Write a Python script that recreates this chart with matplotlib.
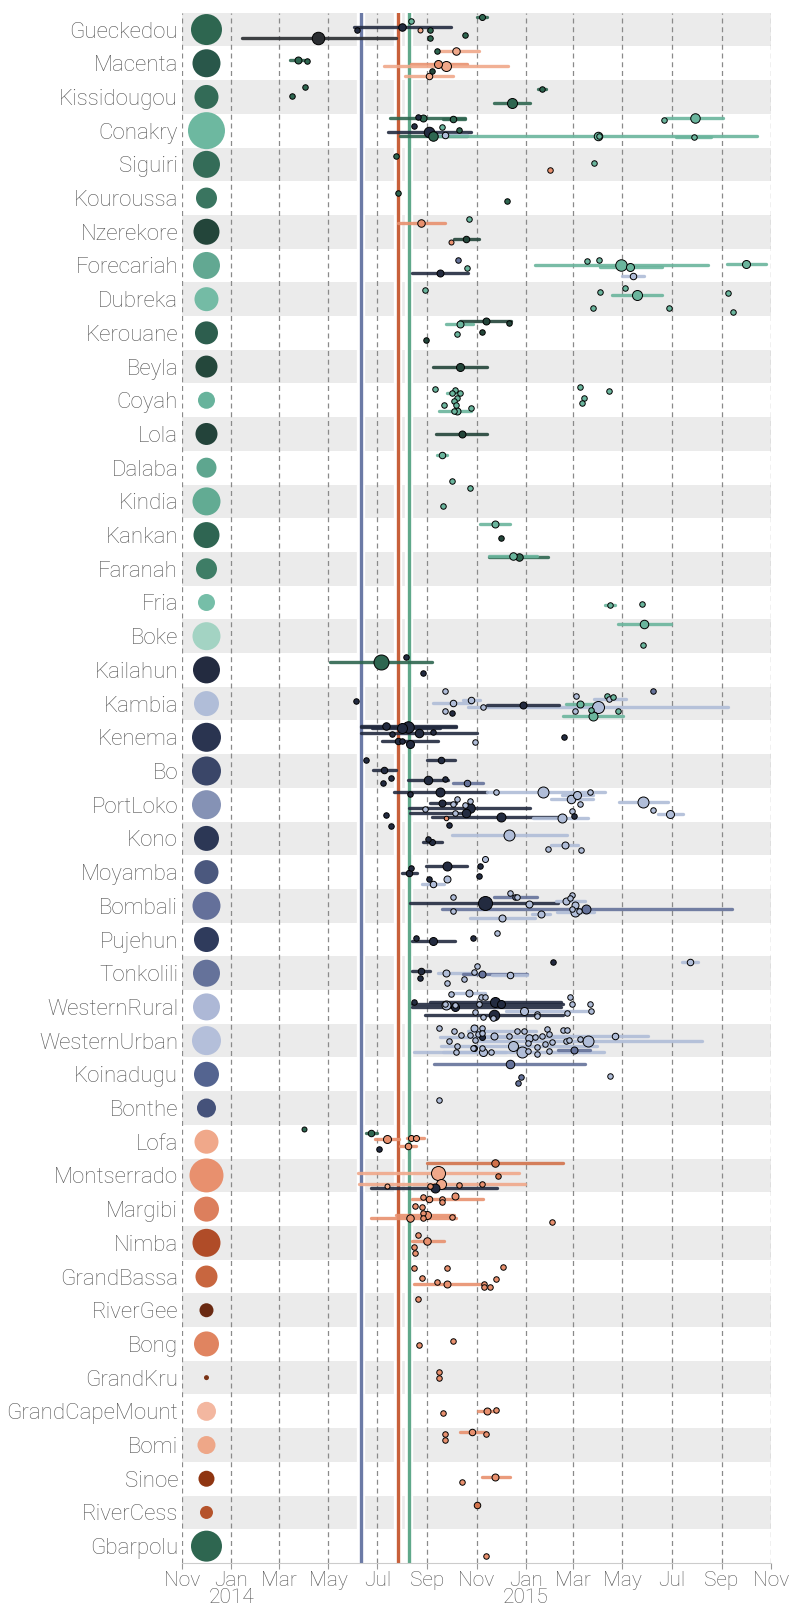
import matplotlib
matplotlib.use("Agg")
import matplotlib.pyplot as plt
import matplotlib.patheffects as pe
from datetime import date

# districts, top to bottom
locations = ['Gueckedou', 'Macenta', 'Kissidougou', 'Conakry', 'Siguiri', 'Kouroussa',
             'Nzerekore', 'Forecariah', 'Dubreka', 'Kerouane', 'Beyla', 'Coyah', 'Lola',
             'Dalaba', 'Kindia', 'Kankan', 'Faranah', 'Fria', 'Boke',
             'Kailahun', 'Kambia', 'Kenema', 'Bo', 'PortLoko', 'Kono', 'Moyamba',
             'Bombali', 'Pujehun', 'Tonkolili', 'WesternRural', 'WesternUrban',
             'Koinadugu', 'Bonthe',
             'Lofa', 'Montserrado', 'Margibi', 'Nimba', 'GrandBassa', 'RiverGee', 'Bong',
             'GrandKru', 'GrandCapeMount', 'Bomi', 'Sinoe', 'RiverCess', 'Gbarpolu']

loc_size = [31, 28, 24, 37, 27, 21, 26, 27, 24, 23, 22, 17, 22, 20, 28, 26, 21, 17, 28,
            27, 25, 29, 29, 29, 25, 24, 28, 25, 27, 27, 29, 25, 19,
            24, 34, 25, 28, 22, 14, 25, 5, 19, 18, 16, 13, 31]

loc_color = ['#2e6650', '#29574a', '#336b57', '#6db8a0', '#346c58', '#3a7560', '#23453a',
             '#62a892', '#74bba5', '#2d5e4e', '#24473b', '#68b39c', '#23433a', '#5ea68f',
             '#62ab93', '#2f6552', '#3e7d66', '#76bea8', '#a3d3c3',
             '#232b40', '#b0bdd8', '#2a3450', '#3a4668', '#8592b5', '#2c3755', '#4b587e',
             '#64709a', '#2f3b5c', '#65729a', '#adb8d6', '#b4bfda', '#546490', '#45527a',
             '#f0a88a', '#e8906e', '#dc7f5d', '#b04c28', '#c8663f', '#6a2a12', '#e08460',
             '#7a3316', '#f3b7a0', '#eea788', '#8f3511', '#b5532b', '#2e6650']

palette = {'gd': '#23453a', 'gm': '#2e6650', 'gl': '#6ab59d',
           'sk': '#232b40', 'sm': '#65729a', 'sl': '#b0bdd8',
           'lp': '#f0a88a', 'lm': '#e8906e', 'ld': '#d2724b', 'ch': '#2a2d31'}

# (location, date, low, high, jitter, n, source)
guinea_intros = [
    ('Gueckedou', 2014.850, 2014.833, 2014.868, -0.38, 6, 'gm'),
    ('Gueckedou', 2014.610, None, None, -0.25, 5.5, 'gl'),
    ('Gueckedou', 2014.581, 2014.417, 2014.747, -0.07, 7.5, 'sk'),
    ('Gueckedou', 2014.425, None, None, 0.02, 5.5, 'sk'),
    ('Gueckedou', 2014.641, None, None, 0.0, 5, 'lp'),
    ('Gueckedou', 2014.675, None, None, 0.0, 5.5, 'gm'),
    ('Gueckedou', 2014.675, None, None, 0.24, 5.5, 'gm'),
    ('Gueckedou', 2014.793, None, None, 0.15, 5.5, 'gm'),
    ('Gueckedou', 2014.295, 2014.036, 2014.558, 0.25, 12.5, 'ch'),
    ('Macenta', 2014.698, None, None, -0.35, 5.5, 'gm'),
    ('Macenta', 2014.764, 2014.698, 2014.841, -0.35, 7.5, 'lp'),
    ('Macenta', 2014.225, 2014.198, 2014.247, -0.11, 7, 'gm'),
    ('Macenta', 2014.255, None, None, -0.07, 5.5, 'gm'),
    ('Macenta', 2014.703, 2014.610, 2014.799, 0.01, 8, 'lm'),
    ('Macenta', 2014.729, 2014.517, 2014.939, 0.09, 10, 'lp'),
    ('Macenta', 2014.683, None, None, 0.22, 5.5, 'gd'),
    ('Macenta', 2014.670, 2014.589, 2014.752, 0.38, 6.5, 'lp'),
    ('Kissidougou', 2014.249, None, None, -0.29, 5.5, 'gm'),
    ('Kissidougou', 2014.205, None, None, -0.04, 5.5, 'gm'),
    ('Kissidougou', 2015.055, 2015.041, 2015.069, -0.23, 5.5, 'gm'),
    ('Kissidougou', 2014.952, 2014.891, 2015.013, 0.19, 10, 'gm'),
    ('Conakry', 2014.634, None, None, -0.41, 5.5, 'sk'),
    ('Conakry', 2014.652, 2014.540, 2014.792, -0.38, 7, 'gm'),
    ('Conakry', 2014.754, 2014.718, 2014.792, -0.35, 6.5, 'gm'),
    ('Conakry', 2015.470, None, None, -0.33, 5.5, 'gl'),
    ('Conakry', 2015.574, 2015.476, 2015.670, -0.38, 9.5, 'gl'),
    ('Conakry', 2014.620, None, None, -0.14, 5.5, 'sk'),
    ('Conakry', 2014.716, None, None, -0.10, 5.5, 'gl'),
    ('Conakry', 2014.773, None, None, -0.01, 5.5, 'gm'),
    ('Conakry', 2014.672, 2014.533, 2014.815, 0.05, 10.5, 'sk'),
    ('Conakry', 2014.686, 2014.574, 2014.799, 0.17, 9.5, 'gm'),
    ('Conakry', 2014.724, 2014.698, 2014.799, 0.12, 6.5, 'sl'),
    ('Conakry', 2015.244, 2014.698, 2015.785, 0.16, 8.5, 'gl'),
    ('Conakry', 2015.249, None, None, 0.15, 5.5, 'gl'),
    ('Conakry', 2015.571, 2015.512, 2015.629, 0.20, 5.5, 'gl'),
    ('Siguiri', 2014.559, None, None, -0.25, 5.5, 'gm'),
    ('Siguiri', 2015.231, None, None, -0.05, 5.5, 'gl'),
    ('Siguiri', 2015.083, None, None, 0.17, 5.5, 'lm'),
    ('Kouroussa', 2014.567, None, None, -0.14, 5.5, 'gm'),
    ('Kouroussa', 2014.938, None, None, 0.09, 5.5, 'gm'),
    ('Nzerekore', 2014.806, None, None, -0.39, 5.5, 'gl'),
    ('Nzerekore', 2014.644, 2014.566, 2014.724, -0.25, 7.5, 'lm'),
    ('Nzerekore', 2014.798, 2014.757, 2014.841, 0.22, 6.5, 'gd'),
    ('Nzerekore', 2014.746, None, None, 0.31, 5, 'lm'),
    ('Forecariah', 2014.770, None, None, -0.17, 5.5, 'sm'),
    ('Forecariah', 2014.802, None, None, 0.07, 5.5, 'gl'),
    ('Forecariah', 2014.707, 2014.614, 2014.803, 0.22, 7, 'sk'),
    ('Forecariah', 2015.209, None, None, -0.12, 5.5, 'gl'),
    ('Forecariah', 2015.250, None, None, -0.15, 5.5, 'gl'),
    ('Forecariah', 2015.324, 2015.030, 2015.621, -0.01, 11.5, 'gl'),
    ('Forecariah', 2015.356, 2015.251, 2015.462, 0.06, 8, 'gl'),
    ('Forecariah', 2015.363, 2015.326, 2015.401, 0.32, 6.5, 'sl'),
    ('Forecariah', 2015.749, 2015.684, 2015.817, -0.05, 8, 'gl'),
    ('Dubreka', 2014.658, None, None, -0.27, 5.5, 'gl'),
    ('Dubreka', 2015.253, None, None, -0.20, 5.5, 'gl'),
    ('Dubreka', 2015.339, None, None, -0.33, 5.5, 'gl'),
    ('Dubreka', 2015.379, 2015.293, 2015.464, -0.12, 10, 'gl'),
    ('Dubreka', 2015.229, None, None, 0.26, 5.5, 'gl'),
    ('Dubreka', 2015.486, None, None, 0.25, 5.5, 'gl'),
    ('Dubreka', 2015.689, None, None, -0.17, 5.5, 'gl'),
    ('Dubreka', 2015.705, None, None, 0.38, 5.5, 'gl'),
    ('Kerouane', 2014.866, 2014.775, 2014.950, -0.34, 7, 'gd'),
    ('Kerouane', 2014.944, None, None, -0.30, 5.5, 'gd'),
    ('Kerouane', 2014.775, 2014.730, 2014.821, -0.26, 7, 'gl'),
    ('Kerouane', 2014.765, None, None, 0.04, 5.5, 'gl'),
    ('Kerouane', 2014.853, None, None, -0.04, 5.5, 'gd'),
    ('Kerouane', 2014.661, None, None, 0.21, 5.5, 'gd'),
    ('Beyla', 2014.777, 2014.686, 2014.868, 0.0, 8, 'gd'),
    ('Coyah', 2014.693, None, None, -0.33, 5.5, 'gl'),
    ('Coyah', 2014.758, None, None, -0.31, 5.5, 'gl'),
    ('Coyah', 2014.751, 2014.732, 2014.768, -0.22, 5.5, 'gl'),
    ('Coyah', 2014.777, None, None, -0.22, 5.5, 'gl'),
    ('Coyah', 2014.765, None, None, -0.08, 5.5, 'gl'),
    ('Coyah', 2014.755, None, None, 0.03, 5.5, 'gl'),
    ('Coyah', 2014.722, None, None, 0.14, 5.5, 'gl'),
    ('Coyah', 2014.762, None, None, 0.14, 5.5, 'gl'),
    ('Coyah', 2014.757, None, None, 0.31, 5.5, 'gl'),
    ('Coyah', 2014.768, 2014.704, 2014.815, 0.33, 7, 'gl'),
    ('Coyah', 2014.814, None, None, 0.24, 5.5, 'gl'),
    ('Coyah', 2015.185, None, None, -0.38, 5.5, 'gl'),
    ('Coyah', 2015.284, None, None, -0.27, 5.5, 'gl'),
    ('Coyah', 2015.199, None, None, -0.06, 5.5, 'gl'),
    ('Coyah', 2015.192, None, None, 0.07, 5.5, 'gl'),
    ('Lola', 2014.784, 2014.696, 2014.870, 0.0, 7, 'gd'),
    ('Dalaba', 2014.714, 2014.698, 2014.733, -0.39, 6.5, 'gl'),
    ('Dalaba', 2014.751, None, None, 0.39, 5.5, 'gl'),
    ('Kindia', 2014.809, None, None, -0.40, 5.5, 'gl'),
    ('Kindia', 2014.719, None, None, 0.15, 5.5, 'gl'),
    ('Kankan', 2014.896, 2014.846, 2014.946, -0.34, 7, 'gl'),
    ('Kankan', 2014.917, None, None, 0.10, 5.5, 'gd'),
    ('Faranah', 2014.976, 2014.874, 2015.075, -0.34, 7.5, 'gm'),
    ('Faranah', 2014.958, 2014.874, 2015.038, -0.37, 7.5, 'gl'),
    ('Fria', 2015.286, 2015.270, 2015.302, 0.08, 5.5, 'gl'),
    ('Fria', 2015.396, None, None, 0.04, 5.5, 'gl'),
    ('Boke', 2015.403, 2015.313, 2015.495, -0.37, 8.5, 'gl'),
    ('Boke', 2015.397, None, None, 0.26, 5.5, 'gl'),
]

sierra_intros = [
    ('Kailahun', 2014.507, 2014.335, 2014.681, -0.23, 15, 'gm'),
    ('Kailahun', 2014.593, None, None, -0.38, 5.5, 'sk'),
    ('Kailahun', 2014.652, None, None, 0.09, 5.5, 'sk'),
    ('Kambia', 2014.724, None, None, -0.36, 5.5, 'sl'),
    ('Kambia', 2015.431, None, None, -0.38, 5.5, 'sm'),
    ('Kambia', 2014.423, None, None, -0.07, 5.5, 'sk'),
    ('Kambia', 2014.754, 2014.686, 2014.815, -0.03, 6.5, 'sl'),
    ('Kambia', 2014.815, 2014.787, 2014.846, -0.12, 6.5, 'sl'),
    ('Kambia', 2014.727, None, None, 0.22, 5.5, 'sl'),
    ('Kambia', 2014.748, None, None, 0.29, 5.5, 'sk'),
    ('Kambia', 2014.856, None, None, 0.11, 5.5, 'sl'),
    ('Kambia', 2015.246, 2014.803, 2015.688, 0.11, 12, 'sl'),
    ('Kambia', 2014.990, 2014.868, 2015.114, 0.05, 7, 'sk'),
    ('Kambia', 2015.170, None, None, -0.22, 5.5, 'sl'),
    ('Kambia', 2015.183, 2015.138, 2015.237, 0.02, 7, 'gl'),
    ('Kambia', 2015.168, None, None, 0.22, 5.5, 'sl'),
    ('Kambia', 2015.222, None, None, 0.20, 5.5, 'gl'),
    ('Kambia', 2015.227, 2015.126, 2015.331, 0.38, 9, 'gl'),
    ('Kambia', 2015.275, None, None, -0.24, 5.5, 'gl'),
    ('Kambia', 2015.284, 2015.231, 2015.340, -0.15, 5.5, 'sl'),
    ('Kambia', 2015.297, None, None, -0.21, 5.5, 'gl'),
    ('Kambia', 2015.314, None, None, 0.22, 5.5, 'gl'),
    ('Kenema', 2014.525, 2014.440, 2014.763, -0.35, 7.5, 'sk'),
    ('Kenema', 2014.579, 2014.479, 2014.710, -0.27, 10, 'sk'),
    ('Kenema', 2014.601, 2014.440, 2014.764, -0.30, 11.5, 'sk'),
    ('Kenema', 2014.546, None, None, -0.11, 5.5, 'sk'),
    ('Kenema', 2014.638, 2014.440, 2014.836, -0.12, 8.5, 'sk'),
    ('Kenema', 2014.685, None, None, -0.15, 5.5, 'sk'),
    ('Kenema', 2014.565, 2014.512, 2014.703, 0.12, 6.5, 'sk'),
    ('Kenema', 2014.581, None, None, 0.11, 5.5, 'sk'),
    ('Kenema', 2014.606, None, None, 0.21, 8, 'sk'),
    ('Kenema', 2014.828, None, None, 0.13, 5.5, 'sl'),
    ('Kenema', 2015.131, None, None, -0.01, 5.5, 'sk'),
    ('Bo', 2014.458, None, None, -0.34, 5.5, 'sk'),
    ('Bo', 2014.712, 2014.665, 2014.759, -0.32, 6.5, 'sk'),
    ('Bo', 2014.519, 2014.481, 2014.558, -0.03, 6.5, 'sk'),
    ('Bo', 2014.542, None, None, 0.22, 5.5, 'sk'),
    ('Bo', 2014.515, None, None, 0.37, 5.5, 'sk'),
    ('Bo', 2014.669, 2014.601, 2014.737, 0.28, 8.5, 'sk'),
    ('Bo', 2014.724, None, None, 0.24, 5.5, 'sk'),
    ('Bo', 2014.802, 2014.754, 2014.854, 0.37, 6.5, 'sm'),
    ('PortLoko', 2014.606, None, None, -0.33, 5.5, 'sk'),
    ('PortLoko', 2014.710, 2014.552, 2014.868, -0.38, 9, 'sk'),
    ('PortLoko', 2014.900, None, None, -0.38, 5.5, 'sl'),
    ('PortLoko', 2015.058, 2014.868, 2015.270, -0.38, 11, 'sl'),
    ('PortLoko', 2015.219, None, None, -0.39, 5.5, 'sl'),
    ('PortLoko', 2015.175, 2015.122, 2015.227, -0.28, 8, 'sl'),
    ('PortLoko', 2015.155, 2015.085, 2015.227, -0.17, 8.5, 'sl'),
    ('PortLoko', 2015.184, None, None, -0.01, 5.5, 'sl'),
    ('PortLoko', 2015.398, 2015.316, 2015.483, -0.08, 11, 'sl'),
    ('PortLoko', 2014.717, 2014.675, 2014.763, -0.04, 7, 'sk'),
    ('PortLoko', 2014.767, None, None, -0.16, 5.5, 'sl'),
    ('PortLoko', 2014.753, None, None, -0.03, 5.5, 'sl'),
    ('PortLoko', 2014.809, None, None, -0.11, 5.5, 'sl'),
    ('PortLoko', 2014.795, None, None, 0.0, 5.5, 'sl'),
    ('PortLoko', 2014.812, 2014.602, 2015.014, 0.11, 9.5, 'sk'),
    ('PortLoko', 2014.656, None, None, 0.14, 5.5, 'sl'),
    ('PortLoko', 2014.796, 2014.606, 2014.803, 0.25, 8.5, 'sk'),
    ('PortLoko', 2014.759, None, None, 0.25, 5.5, 'sl'),
    ('PortLoko', 2014.729, None, None, 0.39, 4.5, 'lm'),
    ('PortLoko', 2014.915, 2014.680, 2015.108, 0.36, 9, 'sk'),
    ('PortLoko', 2015.122, 2015.026, 2015.213, 0.39, 9, 'sl'),
    ('PortLoko', 2015.157, None, None, 0.20, 5.5, 'sl'),
    ('PortLoko', 2015.165, None, None, 0.33, 5.5, 'sk'),
    ('PortLoko', 2015.434, None, None, 0.16, 5.5, 'sl'),
    ('PortLoko', 2015.492, 2015.451, 2015.533, 0.27, 8, 'sl'),
    ('PortLoko', 2014.526, None, None, 0.31, 5.5, 'sk'),
    ('Kono', 2014.542, None, None, -0.37, 5.5, 'sk'),
    ('Kono', 2014.740, None, None, -0.39, 5.5, 'sk'),
    ('Kono', 2014.944, 2014.748, 2015.140, -0.09, 11, 'sl'),
    ('Kono', 2014.669, None, None, 0.01, 5.5, 'sk'),
    ('Kono', 2014.683, 2014.652, 2014.714, 0.11, 6, 'sk'),
    ('Kono', 2015.075, None, None, 0.30, 5.5, 'sl'),
    ('Kono', 2015.133, 2015.085, 2015.178, 0.20, 7, 'sl'),
    ('Kono', 2015.188, None, None, 0.33, 5.5, 'sl'),
    ('Moyamba', 2014.860, None, None, -0.40, 6, 'sl'),
    ('Moyamba', 2014.731, 2014.661, 2014.801, -0.17, 9, 'sk'),
    ('Moyamba', 2014.846, None, None, -0.17, 5.5, 'sk'),
    ('Moyamba', 2014.611, None, None, -0.11, 5.5, 'sk'),
    ('Moyamba', 2014.604, 2014.581, 2014.630, 0.04, 6.5, 'sk'),
    ('Moyamba', 2014.842, None, None, 0.13, 5.5, 'sk'),
    ('Moyamba', 2014.671, None, None, 0.20, 5.5, 'sk'),
    ('Moyamba', 2014.686, 2014.648, 2014.723, 0.35, 6.5, 'sl'),
    ('Moyamba', 2014.731, None, None, 0.21, 7, 'sl'),
    ('Bombali', 2014.946, None, None, -0.37, 5.5, 'sl'),
    ('Bombali', 2014.962, 2014.891, 2015.038, -0.25, 5.5, 'sm'),
    ('Bombali', 2014.972, None, None, -0.25, 5.5, 'sl'),
    ('Bombali', 2014.752, None, None, -0.25, 5.5, 'sl'),
    ('Bombali', 2014.860, 2014.608, 2015.108, -0.08, 14, 'sk'),
    ('Bombali', 2015.010, None, None, -0.04, 7, 'sl'),
    ('Bombali', 2014.752, None, None, 0.15, 5.5, 'sl'),
    ('Bombali', 2015.206, 2014.714, 2015.701, 0.10, 9, 'sm'),
    ('Bombali', 2015.051, 2015.022, 2015.081, 0.23, 7, 'sl'),
    ('Bombali', 2014.921, 2014.812, 2015.032, 0.35, 7, 'sl'),
    ('Bombali', 2015.156, None, None, -0.31, 5.5, 'sl'),
    ('Bombali', 2015.149, None, None, -0.23, 5.5, 'sl'),
    ('Bombali', 2015.137, 2015.102, 2015.202, -0.15, 7, 'sl'),
    ('Bombali', 2015.167, None, None, -0.02, 7, 'sl'),
    ('Bombali', 2015.158, None, None, 0.10, 5.5, 'sl'),
    ('Bombali', 2015.168, 2015.106, 2015.233, 0.18, 9, 'sl'),
    ('Bombali', 2015.181, None, None, 0.14, 5.5, 'sl'),
    ('Pujehun', 2014.628, None, None, -0.04, 5.5, 'sk'),
    ('Pujehun', 2014.685, 2014.613, 2014.760, 0.03, 8, 'sk'),
    ('Pujehun', 2014.822, None, None, -0.05, 5.5, 'sk'),
    ('Pujehun', 2014.902, None, None, -0.18, 5.5, 'sl'),
    ('Tonkolili', 2015.093, None, None, -0.33, 5.5, 'sk'),
    ('Tonkolili', 2015.558, 2015.530, 2015.586, -0.33, 6.5, 'sl'),
    ('Tonkolili', 2014.833, None, None, -0.22, 5.5, 'sl'),
    ('Tonkolili', 2014.643, 2014.613, 2014.676, -0.08, 6.5, 'sk'),
    ('Tonkolili', 2014.642, None, None, 0.13, 5.5, 'sk'),
    ('Tonkolili', 2014.730, 2014.703, 2014.815, -0.02, 7, 'sl'),
    ('Tonkolili', 2014.825, None, None, -0.05, 5.5, 'sl'),
    ('Tonkolili', 2014.852, 2014.787, 2015.003, 0.01, 7, 'sm'),
    ('Tonkolili', 2014.946, 2014.885, 2015.005, 0.05, 6.5, 'sl'),
    ('Tonkolili', 2014.791, None, None, 0.18, 5.5, 'sl'),
    ('Tonkolili', 2014.732, None, None, 0.28, 5.5, 'sl'),
    ('WesternRural', 2014.620, None, None, -0.14, 5.5, 'sk'),
    ('WesternRural', 2014.894, 2014.675, 2015.120, -0.15, 10, 'sk'),
    ('WesternRural', 2014.915, 2014.613, 2015.126, -0.08, 8, 'sk'),
    ('WesternRural', 2014.759, 2014.613, 2015.120, 0.0, 8, 'sk'),
    ('WesternRural', 2014.891, 2014.659, 2015.126, 0.23, 10.5, 'sk'),
    ('WesternRural', 2014.746, None, None, -0.38, 5.5, 'sl'),
    ('WesternRural', 2014.806, 2014.757, 2014.862, -0.40, 7, 'sl'),
    ('WesternRural', 2014.847, None, None, -0.29, 5.5, 'sl'),
    ('WesternRural', 2014.862, None, None, -0.29, 5.5, 'sl'),
    ('WesternRural', 2015.149, None, None, -0.30, 5.5, 'sl'),
    ('WesternRural', 2014.724, None, None, -0.10, 5.5, 'sl'),
    ('WesternRural', 2014.729, None, None, -0.07, 9, 'sl'),
    ('WesternRural', 2014.760, None, None, -0.06, 5.5, 'sl'),
    ('WesternRural', 2014.841, None, None, -0.08, 5.5, 'sl'),
    ('WesternRural', 2014.827, None, None, 0.15, 5.5, 'sl'),
    ('WesternRural', 2014.856, None, None, 0.31, 5.5, 'sl'),
    ('WesternRural', 2014.890, None, None, 0.33, 5.5, 'sl'),
    ('WesternRural', 2014.994, 2014.932, 2015.213, 0.12, 8, 'sl'),
    ('WesternRural', 2015.037, None, None, 0.20, 5.5, 'sl'),
    ('WesternRural', 2015.039, None, None, 0.28, 5.5, 'sl'),
    ('WesternRural', 2015.141, None, None, 0.17, 5.5, 'sl'),
    ('WesternRural', 2015.157, None, None, -0.10, 5.5, 'sl'),
    ('WesternRural', 2015.217, None, None, -0.10, 5.5, 'sl'),
    ('WesternRural', 2015.223, None, None, 0.12, 5.5, 'sl'),
    ('WesternUrban', 2014.704, None, None, -0.38, 5.5, 'sl'),
    ('WesternUrban', 2014.757, None, None, -0.30, 5.5, 'sl'),
    ('WesternUrban', 2014.780, None, None, -0.18, 5.5, 'sl'),
    ('WesternUrban', 2014.809, None, None, -0.16, 5.5, 'sl'),
    ('WesternUrban', 2014.825, None, None, -0.36, 7, 'sl'),
    ('WesternUrban', 2014.850, None, None, -0.36, 5.5, 'sl'),
    ('WesternUrban', 2014.839, None, None, -0.20, 5.5, 'sl'),
    ('WesternUrban', 2014.852, None, None, -0.24, 5.5, 'sl'),
    ('WesternUrban', 2014.829, None, None, -0.01, 5.5, 'sl'),
    ('WesternUrban', 2014.891, None, None, -0.14, 7, 'sl'),
    ('WesternUrban', 2014.942, None, None, -0.13, 5.5, 'sl'),
    ('WesternUrban', 2014.971, 2014.803, 2015.034, -0.29, 5.5, 'sl'),
    ('WesternUrban', 2014.994, None, None, -0.29, 5.5, 'sl'),
    ('WesternUrban', 2015.010, None, None, -0.09, 7.5, 'sl'),
    ('WesternUrban', 2015.030, 2014.707, 2015.126, -0.10, 5.5, 'sl'),
    ('WesternUrban', 2015.055, None, None, -0.14, 5.5, 'sl'),
    ('WesternUrban', 2015.073, None, None, -0.34, 5.5, 'sl'),
    ('WesternUrban', 2015.080, None, None, -0.20, 5.5, 'sl'),
    ('WesternUrban', 2015.088, None, None, 0.03, 5.5, 'sl'),
    ('WesternUrban', 2015.126, None, None, -0.32, 5.5, 'sl'),
    ('WesternUrban', 2015.141, None, None, -0.32, 5.5, 'sl'),
    ('WesternUrban', 2015.138, None, None, 0.01, 5.5, 'sl'),
    ('WesternUrban', 2015.148, None, None, -0.03, 5.5, 'sl'),
    ('WesternUrban', 2015.185, None, None, -0.06, 5.5, 'sl'),
    ('WesternUrban', 2014.738, None, None, 0.01, 5.5, 'sl'),
    ('WesternUrban', 2014.765, None, None, 0.15, 5.5, 'sl'),
    ('WesternUrban', 2014.762, None, None, 0.35, 5.5, 'sl'),
    ('WesternUrban', 2014.821, None, None, 0.23, 5.5, 'sl'),
    ('WesternUrban', 2014.853, None, None, 0.23, 5.5, 'sl'),
    ('WesternUrban', 2014.856, None, None, 0.35, 8, 'sl'),
    ('WesternUrban', 2014.881, 2014.718, 2014.932, 0.35, 5.5, 'sl'),
    ('WesternUrban', 2014.956, 2014.712, 2015.243, 0.16, 10, 'sl'),
    ('WesternUrban', 2014.986, 2014.622, 2015.266, 0.35, 11, 'sl'),
    ('WesternUrban', 2015.008, None, None, 0.08, 5.5, 'sl'),
    ('WesternUrban', 2015.040, None, None, 0.18, 5.5, 'sl'),
    ('WesternUrban', 2015.038, None, None, 0.41, 5.5, 'sl'),
    ('WesternUrban', 2015.078, None, None, 0.31, 5.5, 'sl'),
    ('WesternUrban', 2015.008, None, None, 0.30, 5.5, 'sl'),
    ('WesternUrban', 2015.064, None, None, 0.10, 5.5, 'sl'),
    ('WesternUrban', 2015.213, 2014.829, 2015.600, 0.0, 11, 'sl'),
    ('WesternUrban', 2015.304, 2014.825, 2015.416, -0.13, 6.5, 'sl'),
    ('WesternUrban', 2014.850, None, None, -0.12, 6, 'sk'),
    ('WesternUrban', 2014.825, None, None, 0.23, 6, 'sk'),
    ('WesternUrban', 2015.164, 2015.108, 2015.219, 0.28, 7, 'sm'),
    ('Koinadugu', 2014.945, 2014.689, 2015.202, -0.31, 8.5, 'sm'),
    ('Koinadugu', 2014.985, None, None, 0.07, 5.5, 'sm'),
    ('Koinadugu', 2014.973, None, None, 0.26, 5.5, 'sm'),
    ('Koinadugu', 2015.288, None, None, 0.04, 5.5, 'sl'),
    ('Bonthe', 2014.704, None, None, -0.24, 5.5, 'sl'),
]

liberia_intros = [
    ('Lofa', 2014.246, None, None, -0.37, 5, 'gm'),
    ('Lofa', 2014.474, 2014.458, 2014.493, -0.26, 6.5, 'gm'),
    ('Lofa', 2014.528, 2014.487, 2014.569, -0.09, 8, 'lm'),
    ('Lofa', 2014.610, None, None, -0.12, 6, 'lm'),
    ('Lofa', 2014.628, 2014.595, 2014.654, -0.12, 6, 'lm'),
    ('Lofa', 2014.501, None, None, 0.22, 5.5, 'sk'),
    ('Lofa', 2014.600, 2014.574, 2014.628, 0.12, 6.5, 'lm'),
    ('Montserrado', 2014.895, 2014.665, 2015.126, -0.36, 7.5, 'ld'),
    ('Montserrado', 2014.702, 2014.431, 2014.977, -0.07, 14, 'lp'),
    ('Montserrado', 2014.907, None, None, 0.02, 5.5, 'ld'),
    ('Montserrado', 2014.713, 2014.433, 2014.999, 0.24, 10, 'lp'),
    ('Montserrado', 2014.527, None, None, 0.32, 5, 'lp'),
    ('Montserrado', 2014.690, 2014.474, 2014.903, 0.37, 9, 'sk'),
    ('Montserrado', 2014.676, None, None, 0.30, 5.5, 'lm'),
    ('Montserrado', 2014.773, None, None, 0.28, 5.5, 'lm'),
    ('Montserrado', 2014.850, None, None, 0.24, 5.5, 'lm'),
    ('Margibi', 2014.651, None, None, -0.36, 5.5, 'lm'),
    ('Margibi', 2014.670, 2014.613, 2014.856, -0.30, 6.5, 'lm'),
    ('Margibi', 2014.714, None, None, -0.30, 5.5, 'lm'),
    ('Margibi', 2014.760, None, None, -0.39, 7, 'lm'),
    ('Margibi', 2014.623, None, None, -0.10, 5.5, 'lm'),
    ('Margibi', 2014.648, None, None, -0.07, 5.5, 'lm'),
    ('Margibi', 2014.717, None, None, -0.20, 5.5, 'lm'),
    ('Margibi', 2014.651, None, None, 0.11, 5.5, 'lm'),
    ('Margibi', 2014.663, 2014.558, 2014.757, 0.16, 8, 'lm'),
    ('Margibi', 2014.651, None, None, 0.25, 5.5, 'lm'),
    ('Margibi', 2014.607, 2014.473, 2014.763, 0.25, 7.5, 'lm'),
    ('Margibi', 2014.751, None, None, 0.24, 5.5, 'lm'),
    ('Margibi', 2015.088, None, None, 0.38, 5.5, 'lm'),
    ('Nimba', 2014.634, None, None, -0.23, 5.5, 'lm'),
    ('Nimba', 2014.666, 2014.613, 2014.722, -0.05, 7.5, 'lm'),
    ('Nimba', 2014.622, None, None, 0.11, 5.5, 'lm'),
    ('Nimba', 2014.624, None, None, 0.29, 5.5, 'lm'),
    ('GrandBassa', 2014.620, None, None, -0.25, 5.5, 'lm'),
    ('GrandBassa', 2014.734, None, None, -0.25, 5.5, 'lm'),
    ('GrandBassa', 2014.922, None, None, -0.29, 5.5, 'lm'),
    ('GrandBassa', 2014.647, None, None, 0.03, 5.5, 'lm'),
    ('GrandBassa', 2014.699, None, None, 0.15, 5.5, 'lm'),
    ('GrandBassa', 2014.900, None, None, 0.07, 5.5, 'lm'),
    ('GrandBassa', 2014.734, 2014.620, 2014.856, 0.23, 7, 'lm'),
    ('GrandBassa', 2014.858, None, None, 0.21, 5.5, 'lm'),
    ('GrandBassa', 2014.858, None, None, 0.31, 5.5, 'lm'),
    ('GrandBassa', 2014.877, None, None, 0.30, 5.5, 'lm'),
    ('RiverGee', 2014.634, None, None, -0.33, 5.5, 'lm'),
    ('Bong', 2014.638, None, None, 0.02, 5.5, 'lm'),
    ('Bong', 2014.752, None, None, -0.09, 5.5, 'lm'),
    ('GrandKru', 2014.705, None, None, -0.16, 5.5, 'lm'),
    ('GrandKru', 2014.705, None, None, 0.02, 5.5, 'lm'),
    ('GrandCapeMount', 2014.719, None, None, 0.05, 5.5, 'lm'),
    ('GrandCapeMount', 2014.868, 2014.839, 2014.903, 0.0, 7, 'lm'),
    ('GrandCapeMount', 2014.900, None, None, -0.05, 5.5, 'lm'),
    ('Bomi', 2014.819, 2014.777, 2014.862, -0.38, 6.5, 'lm'),
    ('Bomi', 2014.866, None, None, -0.32, 5.5, 'lm'),
    ('Bomi', 2014.726, None, None, -0.32, 5.5, 'lm'),
    ('Bomi', 2014.726, None, None, -0.16, 5.5, 'lm'),
    ('Sinoe', 2014.897, 2014.850, 2014.946, -0.04, 7, 'lm'),
    ('Sinoe', 2014.784, None, None, 0.10, 5.5, 'lm'),
    ('RiverCess', 2014.835, None, None, -0.22, 6.5, 'ld'),
    ('Gbarpolu', 2014.866, None, None, 0.30, 5.5, 'lm'),
]

# border closures: Sierra Leone, Liberia, Guinea
closure_dates = [2014.441, 2014.567, 2014.603]
closure_colors = ['#6b7aa6', '#c8603a', '#5fa88a']


def decyear(y, m, d=1):
    return y + (date(y, m, d).timetuple().tm_yday - 1) / 365


plt.rcParams['font.family'] = ['Roboto', 'DejaVu Sans']
txt = '#555555'

fig = plt.figure(figsize=(7.92, 16.11), dpi=100)
ax = fig.add_axes([182.3 / 792, 48 / 1611, 588.5 / 792, 1550.3 / 1611])

n = len(locations)
row = {name: i for i, name in enumerate(locations)}

for i in range(0, n, 2):
    ax.axhspan(i - 0.5, i + 0.5, color='#ebebeb', lw=0, zorder=0)

months = [(2013, 11), (2014, 1), (2014, 3), (2014, 5), (2014, 7), (2014, 9), (2014, 11),
          (2015, 1), (2015, 3), (2015, 5), (2015, 7), (2015, 9), (2015, 11)]
tick_pos = [decyear(y, m) for y, m in months]
tick_lab = []
for y, m in months:
    lab = date(y, m, 1).strftime('%b')
    if m == 1:
        lab += '\n%d' % y
    tick_lab.append(lab)

for t in tick_pos:
    ax.axvline(t, color='#8a8a8a', lw=0.9, ls=(0, (4, 3)), zorder=1)

for x, c in zip(closure_dates, closure_colors):
    ax.axvline(x, color=c, lw=2.4, zorder=2,
               path_effects=[pe.Stroke(linewidth=6, foreground='white'), pe.Normal()])

# district circles
ax.scatter([decyear(2013, 12, 1)] * n, range(n), s=[(d * 0.72) ** 2 for d in loc_size],
           c=loc_color, lw=0, zorder=3)

intros = guinea_intros + sierra_intros + liberia_intros

for loc, t, lo, hi, dy, m, src in intros:
    if lo is not None:
        ax.plot([lo, hi], [row[loc] + dy] * 2, color=palette[src], lw=2.4,
                solid_capstyle='round', alpha=0.9, zorder=3)

for loc, t, lo, hi, dy, m, src in sorted(intros, key=lambda r: -r[5]):
    ax.scatter(t, row[loc] + dy, s=(m * 0.72) ** 2, c=palette[src],
               edgecolors='black', linewidths=0.7, zorder=4)

ax.set_xlim(decyear(2013, 11, 1), decyear(2015, 11, 1))
ax.set_ylim(n - 0.5, -0.5)

ax.set_yticks(range(n))
ax.set_yticklabels(locations, fontsize=16, color=txt, fontweight='light')
ax.tick_params(axis='y', length=0, pad=3)

ax.set_xticks(tick_pos)
ax.set_xticklabels(tick_lab, fontsize=15, color=txt, fontweight='light', linespacing=0.82)
ax.tick_params(axis='x', length=4, color='#999999', pad=2)

for s in ['top', 'right', 'left']:
    ax.spines[s].set_visible(False)
ax.spines['bottom'].set_color('#cccccc')
ax.spines['bottom'].set_linewidth(0.8)

fig.savefig('out.png', dpi=100)
